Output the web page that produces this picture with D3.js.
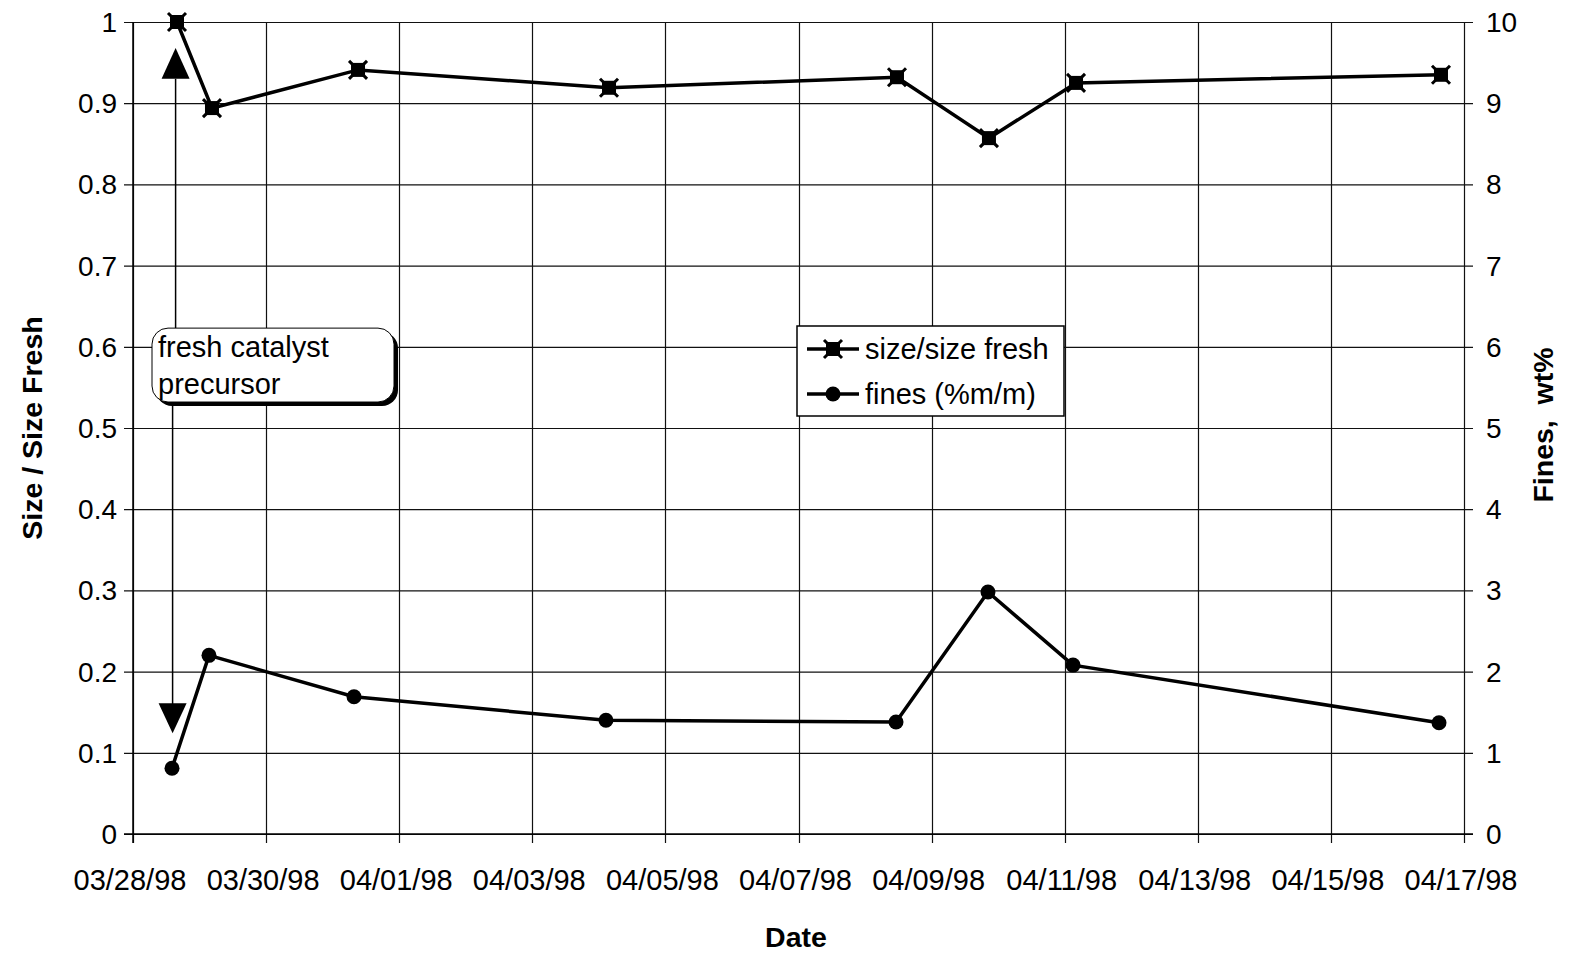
<!DOCTYPE html>
<html>
<head>
<meta charset="utf-8">
<script src="https://cdn.jsdelivr.net/npm/d3@7"></script>
<style>
  body { margin: 0; background: #fff; }
  svg text { font-family: "Liberation Sans", Arial, sans-serif; fill: #000; }
</style>
</head>
<body>
<svg id="chart" width="1569" height="957"></svg>
<script>
// sample times (UTC), size ratio on left axis, fines on right axis
const sizeDates = ["1998-03-28T15:52", "1998-03-29T04:29", "1998-03-31T09:09", "1998-04-04T03:40",
  "1998-04-08T11:31", "1998-04-09T20:41", "1998-04-11T04:05", "1998-04-16T15:42"];
const sizeValues = [1.0, 0.894, 0.941, 0.919, 0.932, 0.857, 0.925, 0.935];

const finesDates = ["1998-03-28T14:04", "1998-03-29T03:24", "1998-03-31T07:42", "1998-04-04T02:34",
  "1998-04-08T11:10", "1998-04-09T20:20", "1998-04-11T03:00", "1998-04-16T14:59"];
const finesValues = [0.81, 2.2, 1.69, 1.40, 1.38, 2.98, 2.08, 1.37];

const dateTicks = ["03/28/98", "03/30/98", "04/01/98", "04/03/98", "04/05/98", "04/07/98",
  "04/09/98", "04/11/98", "04/13/98", "04/15/98", "04/17/98"];
const leftTicks = [0, 0.1, 0.2, 0.3, 0.4, 0.5, 0.6, 0.7, 0.8, 0.9, 1];
const rightTicks = [0, 1, 2, 3, 4, 5, 6, 7, 8, 9, 10];

// annotation: arrow at this time, pointing up to size and down to fines
const noteDate = "1998-03-28T15:00";
const noteLines = ["fresh catalyst", "precursor"];

const parseTime = d3.utcParse("%Y-%m-%dT%H:%M");
const parseTick = d3.utcParse("%m/%d/%y");

const margin = {top: 22, right: 105, bottom: 123, left: 133};
const width = 1569, height = 957;

const svg = d3.select("#chart");

const x = d3.scaleUtc()
  .domain([parseTick(dateTicks[0]), parseTick(dateTicks[dateTicks.length - 1])])
  .range([margin.left, width - margin.right]);
const yL = d3.scaleLinear().domain([0, 1]).range([height - margin.bottom, margin.top]);
const yR = d3.scaleLinear().domain([0, 10]).range([height - margin.bottom, margin.top]);

// grid
const grid = svg.append("g").attr("stroke", "#111").attr("stroke-width", 1.2);
grid.selectAll(".hg").data(leftTicks).enter().append("line")
  .attr("x1", margin.left - 9).attr("x2", width - margin.right + 9)
  .attr("y1", d => yL(d) + 0.5).attr("y2", d => yL(d) + 0.5);
grid.selectAll(".vg").data(dateTicks).enter().append("line")
  .attr("x1", d => Math.round(x(parseTick(d))) + 0.5).attr("x2", d => Math.round(x(parseTick(d))) + 0.5)
  .attr("y1", margin.top).attr("y2", height - margin.bottom + 9);

// axis lines a bit darker
svg.append("line").attr("stroke", "#000").attr("stroke-width", 1.5)
  .attr("x1", margin.left).attr("x2", margin.left)
  .attr("y1", margin.top).attr("y2", height - margin.bottom + 9);
svg.append("line").attr("stroke", "#000").attr("stroke-width", 1.5)
  .attr("x1", margin.left - 9).attr("x2", width - margin.right + 9)
  .attr("y1", height - margin.bottom).attr("y2", height - margin.bottom);

// tick labels
svg.append("g").selectAll("text").data(leftTicks).enter().append("text")
  .attr("x", 117).attr("y", d => yL(d)).attr("dy", "0.36em")
  .attr("text-anchor", "end").style("font-size", "28px")
  .text(d => d3.format("")(+d.toFixed(1)));
svg.append("g").selectAll("text").data(rightTicks).enter().append("text")
  .attr("x", 1486).attr("y", d => yR(d)).attr("dy", "0.36em")
  .style("font-size", "28px").text(d => d);
svg.append("g").selectAll("text").data(dateTicks).enter().append("text")
  .attr("x", d => x(parseTick(d)) - 3).attr("y", 890)
  .attr("text-anchor", "middle").style("font-size", "29px").text(d => d);

// axis titles
svg.append("text").attr("transform", `translate(42,${yL(0.5)}) rotate(-90)`)
  .attr("text-anchor", "middle").style("font-size", "28.5px").style("font-weight", "bold")
  .text("Size / Size Fresh");
svg.append("text").attr("transform", `translate(1553,${yL(0.5) - 3}) rotate(-90)`)
  .attr("text-anchor", "middle").style("font-size", "28.5px").style("font-weight", "bold")
  .attr("xml:space", "preserve").style("white-space", "pre")
  .text("Fines,  wt%");
svg.append("text").attr("x", 796).attr("y", 947)
  .attr("text-anchor", "middle").style("font-size", "28.5px").style("font-weight", "bold")
  .text("Date");

// annotation arrows and box
const nx = x(parseTime(noteDate));
const boxTop = yL(0.623), boxBottom = yL(0.532);
const ann = svg.append("g");
ann.append("line").attr("x1", nx + 1).attr("x2", nx + 1).attr("y1", boxTop).attr("y2", yL(0.93))
  .attr("stroke", "#000").attr("stroke-width", 1.5);
ann.append("path")
  .attr("d", `M${nx + 1},${yL(0.968)} L${nx - 13},${yL(0.93)} L${nx + 15},${yL(0.93)} Z`)
  .attr("fill", "#000");
ann.append("line").attr("x1", nx - 2).attr("x2", nx - 2).attr("y1", boxBottom).attr("y2", yL(0.16))
  .attr("stroke", "#000").attr("stroke-width", 1.5);
ann.append("path")
  .attr("d", `M${nx - 2},${yL(0.124)} L${nx - 16},${yL(0.161)} L${nx + 12},${yL(0.161)} Z`)
  .attr("fill", "#000");

const bx = margin.left + 19, bw = 242;
ann.append("rect").attr("x", bx + 4).attr("y", boxTop + 4).attr("width", bw).attr("height", boxBottom - boxTop)
  .attr("rx", 16).attr("fill", "#000");
ann.append("rect").attr("x", bx).attr("y", boxTop).attr("width", bw).attr("height", boxBottom - boxTop)
  .attr("rx", 16).attr("fill", "#fff").attr("stroke", "#000").attr("stroke-width", 1);
ann.selectAll(".nt").data(noteLines).enter().append("text")
  .attr("x", bx + 6).attr("y", (d, i) => boxTop + 29 + i * 37)
  .style("font-size", "29px").text(d => d);

// series lines
const sizeData = sizeDates.map((d, i) => ({t: parseTime(d), v: sizeValues[i]}));
const finesData = finesDates.map((d, i) => ({t: parseTime(d), v: finesValues[i]}));

svg.append("path").datum(sizeData)
  .attr("d", d3.line().x(d => x(d.t)).y(d => yL(d.v)))
  .attr("fill", "none").attr("stroke", "#000").attr("stroke-width", 3.5);
svg.append("path").datum(finesData)
  .attr("d", d3.line().x(d => x(d.t)).y(d => yR(d.v)))
  .attr("fill", "none").attr("stroke", "#000").attr("stroke-width", 3.5);

// square marker with notched corners, like the scanned excel marker
function starSquare(g, cx, cy) {
  g.append("rect").attr("x", cx - 7).attr("y", cy - 7).attr("width", 14).attr("height", 14).attr("fill", "#000");
  g.append("path").attr("d", `M${cx - 9},${cy - 9}L${cx + 9},${cy + 9}M${cx - 9},${cy + 9}L${cx + 9},${cy - 9}`)
    .attr("stroke", "#000").attr("stroke-width", 3);
}

const sm = svg.append("g");
sizeData.forEach(d => starSquare(sm, x(d.t), yL(d.v)));
svg.append("g").selectAll("circle").data(finesData).enter().append("circle")
  .attr("cx", d => x(d.t)).attr("cy", d => yR(d.v)).attr("r", 7.5).attr("fill", "#000");

// legend
const lg = svg.append("g").attr("transform", "translate(797,326)");
lg.append("rect").attr("width", 267).attr("height", 90)
  .attr("fill", "#fff").attr("stroke", "#000").attr("stroke-width", 1.5);
const legendItems = ["size/size fresh", "fines (%m/m)"];
legendItems.forEach((name, i) => {
  const ly = 23 + i * 45;
  lg.append("line").attr("x1", 10).attr("x2", 62).attr("y1", ly).attr("y2", ly)
    .attr("stroke", "#000").attr("stroke-width", 3.5);
  if (i === 0) starSquare(lg, 36, ly);
  else lg.append("circle").attr("cx", 36).attr("cy", ly).attr("r", 7.5).attr("fill", "#000");
  lg.append("text").attr("x", 68).attr("y", ly + 10).style("font-size", "29px").text(name);
});
</script>
</body>
</html>
